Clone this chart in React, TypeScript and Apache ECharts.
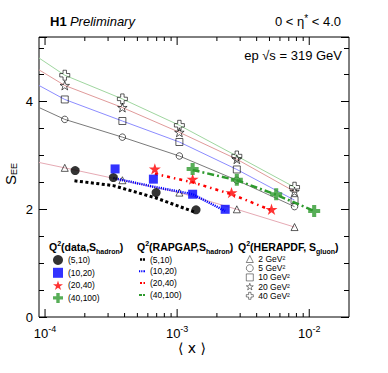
import React, { useEffect, useRef } from 'react';
import * as echarts from 'echarts';

const FONT = '"Liberation Sans", Arial, Helvetica, sans-serif';

// ---- measured data (S_hadron) ----
const dataBins = ['(5,10)', '(10,20)', '(20,40)', '(40,100)'];
const dataX510 = [1.69e-4, 3.29e-4, 6.93e-4, 1.39e-3];
const dataY510 = [2.72, 2.59, 2.31, 1.99];
const dataX1020 = [3.39e-4, 6.61e-4, 1.31e-3, 2.31e-3];
const dataY1020 = [2.75, 2.56, 2.28, 2.0];
const dataX2040 = [6.78e-4, 1.31e-3, 2.58e-3, 5.18e-3];
const dataY2040 = [2.75, 2.56, 2.31, 2.0];
const dataX40100 = [1.31e-3, 2.83e-3, 5.62e-3, 1.09e-2];
const dataY40100 = [2.75, 2.55, 2.28, 1.97];

// ---- RAPGAP (S_hadron) ----
const rapX510 = [1.67e-4, 3.29e-4, 6.93e-4, 1.39e-3];
const rapY510 = [2.53, 2.44, 2.21, 1.94];
const rapX1020 = [3.29e-4, 6.61e-4, 1.31e-3, 2.31e-3];
const rapY1020 = [2.58, 2.42, 2.28, 1.97];
const rapX2040 = [6.78e-4, 1.31e-3, 2.58e-3, 5.18e-3];
const rapY2040 = [2.66, 2.5, 2.28, 1.98];
const rapX40100 = [1.31e-3, 2.83e-3, 5.62e-3, 1.09e-2];
const rapY40100 = [2.73, 2.54, 2.27, 1.97];

// ---- HERAPDF (S_gluon) ; first x = curve value at the left plot edge ----
const herLabels = ['2 GeV²', '5 GeV²', '10 GeV²', '20 GeV²', '40 GeV²'];
const herX = [9e-5, 1.41e-4, 3.85e-4, 1.04e-3, 2.83e-3, 7.74e-3];
const herY2 = [2.87, 2.77, 2.54, 2.31, 2.0, 1.67];
const herY5 = [3.89, 3.67, 3.34, 2.99, 2.54, 2.05];
const herY10 = [4.3, 4.04, 3.64, 3.25, 2.74, 2.17];
const herY20 = [4.59, 4.3, 3.89, 3.43, 2.93, 2.33];
const herY40 = [4.81, 4.49, 4.05, 3.56, 2.99, 2.41];

// ---- axis ticks ----
const xMajorTicks = [1e-4, 1e-3, 1e-2];
const xMinorTicks = [
  2e-4, 3e-4, 4e-4, 5e-4, 6e-4, 7e-4, 8e-4, 9e-4,
  2e-3, 3e-3, 4e-3, 5e-3, 6e-3, 7e-3, 8e-3, 9e-3,
];
const X_MIN = 9e-5;
const X_MAX = 0.02;
const Y_MIN = 0;
const Y_MAX = 5.2;

const STAR =
  'path://M50,0 L61.8,35.4 L98.9,35.4 L69,57.3 L80.3,92.7 L50,70.8 L19.7,92.7 L31,57.3 L1.1,35.4 L38.2,35.4 Z';
const CROSS =
  'path://M33,0 L67,0 L67,33 L100,33 L100,67 L67,67 L67,100 L33,100 L33,67 L0,67 L0,33 L33,33 Z';

// legend swatches for the RAPGAP line styles (8x8 box)
const RAP_ICONS = [
  'path://M0,0 M8,8 M3,2.8h2.2v2.4h-2.2z M6,2.8h2v2.4h-2z',
  'path://M0,0 M8,8 M2,3h1v2h-1z M3.8,3h1v2h-1z M5.6,3h1v2h-1z M7,3h1v2h-1z',
  'path://M0,0 M8,8 M3,3h2v2h-2z M6.5,3h1.5v2h-1.5z',
  'path://M0,0 M8,8 M2,3h3v2h-3z M6,3h2v2h-2z',
];

const BLUE = '#0000ff';
const RED = '#ff0000';
const GREEN = '#2e9a2e';

const zip = (xs: number[], ys: number[]) => xs.map((x, i) => [x, ys[i]]);
const strip = (name: string) => name.replace(/^\S+ /, '');

export default function App() {
  const ref = useRef<HTMLDivElement>(null);

  useEffect(() => {
    if (!ref.current) return;
    const chart = echarts.init(ref.current, null, { renderer: 'svg' });

    const dataSets = [
      { x: dataX510, y: dataY510, color: '#000', symbol: 'circle', size: 9 },
      { x: dataX1020, y: dataY1020, color: BLUE, symbol: 'rect', size: 9 },
      { x: dataX2040, y: dataY2040, color: RED, symbol: STAR, size: 12 },
      { x: dataX40100, y: dataY40100, color: GREEN, symbol: CROSS, size: 12 },
    ];
    const rapSets = [
      { x: rapX510, y: rapY510, color: '#000', width: 3, type: [3, 2.5] },
      { x: rapX1020, y: rapY1020, color: BLUE, width: 2.5, type: [1.2, 1] },
      { x: rapX2040, y: rapY2040, color: RED, width: 2.5, type: [3, 4, 1.5, 4] },
      { x: rapX40100, y: rapY40100, color: GREEN, width: 2.5, type: [7, 3, 2, 3] },
    ];
    const herSets = [
      { y: herY2, color: '#e6aab4', symbol: 'triangle', size: 7 },
      { y: herY5, color: '#7a7a7a', symbol: 'circle', size: 6.5 },
      { y: herY10, color: '#8c8cff', symbol: 'rect', size: 7 },
      { y: herY20, color: '#e09a9a', symbol: STAR, size: 9.5 },
      { y: herY40, color: '#9fd69f', symbol: CROSS, size: 10 },
    ];

    const series: any[] = [];
    herSets.forEach((h, i) => {
      series.push({
        name: 'curve ' + herLabels[i],
        type: 'line',
        data: zip(herX, h.y),
        symbol: 'none',
        silent: true,
        z: 1,
        lineStyle: { color: h.color, width: 1 },
      });
    });
    herSets.forEach((h, i) => {
      series.push({
        name: 'HERAPDF ' + herLabels[i],
        type: 'scatter',
        data: zip(herX.slice(1), h.y.slice(1)),
        symbol: h.symbol,
        symbolSize: h.size,
        symbolKeepAspect: true,
        z: 2,
        itemStyle: { color: 'rgba(255,255,255,0)', borderColor: '#000', borderWidth: 0.8 },
      });
    });
    rapSets.forEach((r, i) => {
      series.push({
        name: 'RAPGAP ' + dataBins[i],
        type: 'line',
        data: zip(r.x, r.y),
        symbol: 'none',
        z: 3,
        itemStyle: { color: r.color },
        lineStyle: { color: r.color, width: r.width, type: r.type },
      });
    });
    dataSets.forEach((d, i) => {
      series.push({
        name: 'data ' + dataBins[i],
        type: 'scatter',
        data: zip(d.x, d.y),
        symbol: d.symbol,
        symbolSize: d.size,
        symbolKeepAspect: true,
        z: 4,
        itemStyle: { color: d.color },
      });
    });
    // x-axis ticks (log minor ticks) on bottom and top edges
    series.push({
      name: 'xticks',
      type: 'custom',
      silent: true,
      z: 5,
      clip: false,
      data: [
        ...xMajorTicks.map((v) => [v, 1]),
        ...xMinorTicks.map((v) => [v, 0]),
      ],
      renderItem: (params: any, api: any) => {
        const v = api.value(0);
        const len = api.value(1) ? 8 : 4;
        const b = api.coord([v, Y_MIN]);
        const t = api.coord([v, Y_MAX]);
        return {
          type: 'group',
          children: [
            { type: 'line', shape: { x1: b[0], y1: b[1], x2: b[0], y2: b[1] - len }, style: { stroke: '#000', lineWidth: 1 } },
            { type: 'line', shape: { x1: t[0], y1: t[1], x2: t[0], y2: t[1] + len }, style: { stroke: '#000', lineWidth: 1 } },
          ],
        };
      },
    });

    const yAxisCommon = {
      type: 'value',
      min: Y_MIN,
      max: Y_MAX,
      interval: 2,
      splitLine: { show: false },
      axisLine: { show: false },
      axisTick: { show: true, inside: true, length: 8, lineStyle: { color: '#000' } },
      minorTick: { show: true, splitNumber: 4, length: 5, lineStyle: { color: '#000' } },
    };

    const headerRich = {
      m: { fontSize: 10.5, fontWeight: 'bold', fontFamily: FONT, color: '#000' },
      sup: { fontSize: 7, fontWeight: 'bold', fontFamily: FONT, color: '#000', padding: [0, 0, 7, 0] },
      sub: { fontSize: 7, fontWeight: 'bold', fontFamily: FONT, color: '#000', padding: [9, 0, 0, 0] },
    };

    chart.setOption({
      animation: false,
      backgroundColor: '#fff',
      grid: { left: 39, right: 39, top: 37, bottom: 56, show: true, borderColor: '#000', borderWidth: 1, backgroundColor: 'transparent' },
      xAxis: {
        type: 'log',
        logBase: 10,
        min: X_MIN,
        max: X_MAX,
        splitLine: { show: false },
        axisLine: { show: false },
        axisTick: { show: false },
        axisLabel: {
          showMinLabel: false,
          showMaxLabel: false,
          margin: 7,
          formatter: (v: number) => {
            const e = Math.log10(v);
            if (Math.abs(e - Math.round(e)) > 1e-6) return '';
            return '{b|10}{e|' + Math.round(e) + '}';
          },
          rich: {
            b: { fontSize: 13, fontFamily: FONT, color: '#000' },
            e: { fontSize: 9, fontFamily: FONT, color: '#000', padding: [0, 0, 9, 0] },
          },
        },
      },
      yAxis: [
        {
          ...yAxisCommon,
          position: 'left',
          axisLabel: {
            showMaxLabel: false,
            margin: 6,
            fontSize: 13,
            fontFamily: FONT,
            color: '#000',
            formatter: (v: number) => (Math.abs(v % 2) < 1e-9 ? String(v) : ''),
          },
        },
        {
          ...yAxisCommon,
          position: 'right',
          axisLabel: { show: false },
        },
      ],
      legend: [
        {
          data: dataBins.map((b) => 'data ' + b),
          left: 53,
          top: 255,
          orient: 'vertical',
          itemWidth: 10,
          itemHeight: 10,
          itemGap: 2.8,
          padding: 0,
          selectedMode: false,
          formatter: strip,
          textStyle: { fontSize: 8.5, fontFamily: FONT, color: '#000' },
        },
        {
          data: dataBins.map((b, i) => ({ name: 'RAPGAP ' + b, icon: RAP_ICONS[i] })),
          left: 137,
          top: 255,
          orient: 'vertical',
          itemWidth: 8,
          itemHeight: 10,
          itemGap: 2.8,
          padding: 0,
          selectedMode: false,
          formatter: strip,
          textStyle: { fontSize: 8.5, fontFamily: FONT, color: '#000' },
        },
        {
          data: herLabels.map((b) => 'HERAPDF ' + b),
          left: 246,
          top: 254.5,
          orient: 'vertical',
          itemWidth: 7,
          itemHeight: 7,
          itemGap: 0.2,
          padding: 0,
          selectedMode: false,
          formatter: strip,
          itemStyle: { borderWidth: 0.6 },
          textStyle: { fontSize: 8.5, lineHeight: 9, fontFamily: FONT, color: '#000' },
        },
      ],
      graphic: [
        {
          type: 'text',
          x: 50,
          y: 21,
          style: {
            text: '{b|H1} {i|Preliminary}',
            verticalAlign: 'middle',
            rich: {
              b: { fontSize: 13, fontWeight: 'bold', fontFamily: FONT, color: '#000' },
              i: { fontSize: 13, fontStyle: 'italic', fontFamily: FONT, color: '#000' },
            },
          },
        },
        {
          type: 'text',
          x: 341,
          y: 21,
          style: {
            text: '{m|0 < η}{s|*}{m| < 4.0}',
            align: 'right',
            verticalAlign: 'middle',
            rich: {
              m: { fontSize: 13, fontFamily: FONT, color: '#000' },
              s: { fontSize: 10, fontFamily: FONT, color: '#000', padding: [0, 0, 5, 0] },
            },
          },
        },
        {
          type: 'text',
          x: 342,
          y: 55,
          style: {
            text: 'ep √s = 319 GeV',
            align: 'right',
            verticalAlign: 'middle',
            fontSize: 13,
            fontFamily: FONT,
            fill: '#000',
          },
        },
        {
          type: 'text',
          x: 10,
          y: 174,
          rotation: Math.PI / 2,
          style: {
            text: '{m|S}{s|EE}',
            align: 'center',
            verticalAlign: 'middle',
            rich: {
              m: { fontSize: 15, fontFamily: FONT, color: '#000' },
              s: { fontSize: 9, fontFamily: FONT, color: '#000', padding: [8, 0, 0, 0] },
            },
          },
        },
        {
          type: 'text',
          x: 192,
          y: 348,
          style: {
            text: '⟨ x ⟩',
            align: 'center',
            verticalAlign: 'middle',
            fontSize: 14,
            fontFamily: '"DejaVu Sans", ' + FONT,
            fill: '#000',
          },
        },
        {
          type: 'text',
          x: 49,
          y: 247,
          style: { text: '{m|Q}{sup|2}{m|(data,S}{sub|hadron}{m|)}', verticalAlign: 'middle', rich: headerRich },
        },
        {
          type: 'text',
          x: 137,
          y: 247,
          style: { text: '{m|Q}{sup|2}{m|(RAPGAP,S}{sub|hadron}{m|)}', verticalAlign: 'middle', rich: headerRich },
        },
        {
          type: 'text',
          x: 238,
          y: 247,
          style: { text: '{m|Q}{sup|2}{m|(HERAPDF, S}{sub|gluon}{m|)}', verticalAlign: 'middle', rich: headerRich },
        },
      ],
      series,
    });

    return () => chart.dispose();
  }, []);

  return <div ref={ref} style={{ position: 'fixed', left: 0, top: 0, width: 388, height: 373 }} />;
}
